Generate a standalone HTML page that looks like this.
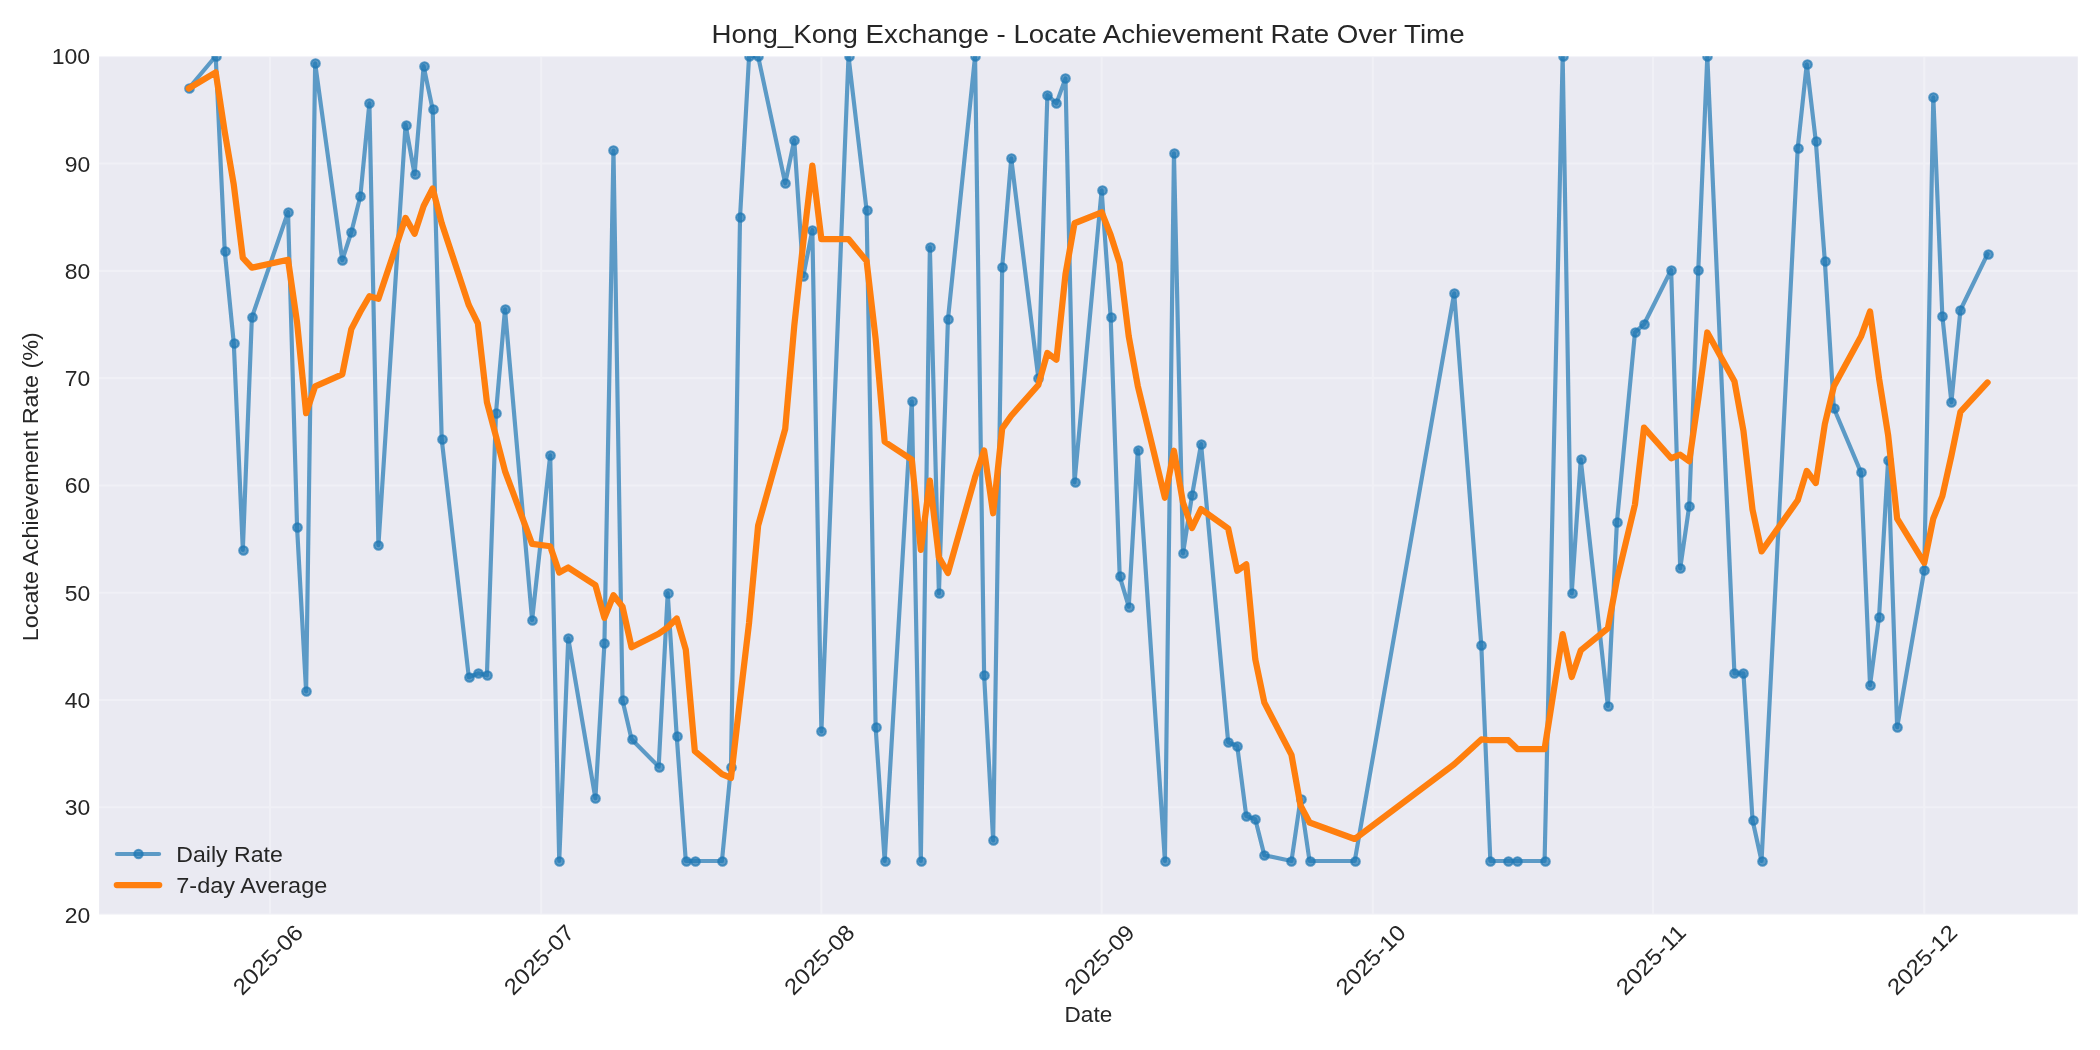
<!DOCTYPE html><html><head><meta charset="utf-8"><style>html,body{margin:0;padding:0;background:#fff;}svg{display:block;will-change:transform;}</style></head><body>
<svg width="2100" height="1050" viewBox="0 0 2100 1050">
<rect x="0" y="0" width="2100" height="1050" fill="#ffffff"/>
<rect x="99.1" y="56.3" width="1978.7" height="858.3" fill="#EAEAF2"/>
<path d="M99.1,914.60H2077.8M99.1,807.31H2077.8M99.1,700.02H2077.8M99.1,592.73H2077.8M99.1,485.44H2077.8M99.1,378.15H2077.8M99.1,270.86H2077.8M99.1,163.57H2077.8M99.1,56.28H2077.8M269.95,56.3V914.6M541.15,56.3V914.6M821.39,56.3V914.6M1101.63,56.3V914.6M1372.83,56.3V914.6M1653.07,56.3V914.6M1924.27,56.3V914.6" stroke="#ffffff" stroke-opacity="0.3" stroke-width="2.08" fill="none"/>
<clipPath id="c"><rect x="99.1" y="56.3" width="1978.7" height="858.3"/></clipPath>
<g clip-path="url(#c)">
<polyline points="188.59,88.47 215.71,56.28 224.75,251.12 233.79,343.28 242.83,549.81 251.87,317.32 288.03,212.07 297.07,527.28 306.11,691.33 315.15,63.36 342.27,260.13 351.31,232.24 360.35,196.19 369.39,103.27 378.43,545.20 405.55,124.52 414.59,174.30 423.63,66.15 432.67,109.50 441.71,439.31 468.83,677.27 477.87,673.30 486.91,675.34 495.95,413.34 504.99,309.27 532.11,619.98 550.19,455.40 559.23,860.96 568.27,638.33 595.39,798.30 604.43,643.26 613.47,150.48 622.51,700.34 631.55,739.29 658.67,766.65 667.71,593.05 676.75,736.50 685.79,860.96 694.83,860.96 721.95,860.96 730.99,766.65 740.03,217.22 749.07,56.28 758.11,56.28 785.23,183.31 794.27,139.97 803.31,276.01 812.35,229.98 821.39,731.35 848.51,56.28 866.59,210.35 875.63,727.27 884.67,860.96 911.79,401.32 920.83,860.96 929.87,247.26 938.91,593.37 947.95,319.36 975.07,56.28 984.11,675.34 993.15,840.36 1002.19,267.10 1011.23,158.31 1038.35,378.15 1047.39,95.01 1056.43,103.38 1065.47,78.38 1074.51,482.33 1101.63,190.39 1110.67,317.32 1119.71,576.31 1128.75,606.68 1137.79,450.03 1164.91,860.96 1173.95,153.38 1182.99,553.35 1192.03,495.31 1201.07,444.03 1228.19,742.29 1237.23,746.05 1246.27,816.00 1255.31,819.33 1264.35,855.27 1291.47,860.96 1300.51,799.26 1309.55,860.96 1354.75,860.96 1454.19,293.28 1481.31,645.30 1490.35,860.96 1508.43,860.96 1517.47,860.96 1544.59,860.96 1562.67,56.28 1571.71,593.37 1580.75,459.37 1607.87,705.92 1616.91,522.35 1634.99,332.34 1644.03,324.29 1671.15,270.00 1680.19,568.38 1689.23,506.04 1698.27,270.00 1707.31,56.28 1734.43,673.30 1743.47,673.30 1752.51,819.97 1761.55,860.96 1797.71,148.33 1806.75,64.33 1815.79,141.04 1824.83,260.99 1833.87,408.30 1860.99,472.35 1870.03,685.32 1879.07,616.66 1888.11,460.01 1897.15,727.27 1924.27,570.31 1933.31,97.37 1942.35,316.03 1951.39,402.29 1960.43,310.02 1987.55,254.02" fill="none" stroke="#1f77b4" stroke-opacity="0.7" stroke-width="4.17" stroke-linejoin="round" stroke-linecap="round"/>
<circle cx="189.50" cy="88.50" r="4.3" fill="#1f77b4" fill-opacity="0.7" stroke="#1f77b4" stroke-opacity="0.7" stroke-width="2.08"/><circle cx="216.50" cy="56.50" r="4.3" fill="#1f77b4" fill-opacity="0.7" stroke="#1f77b4" stroke-opacity="0.7" stroke-width="2.08"/><circle cx="225.50" cy="251.50" r="4.3" fill="#1f77b4" fill-opacity="0.7" stroke="#1f77b4" stroke-opacity="0.7" stroke-width="2.08"/><circle cx="234.50" cy="343.50" r="4.3" fill="#1f77b4" fill-opacity="0.7" stroke="#1f77b4" stroke-opacity="0.7" stroke-width="2.08"/><circle cx="243.50" cy="550.50" r="4.3" fill="#1f77b4" fill-opacity="0.7" stroke="#1f77b4" stroke-opacity="0.7" stroke-width="2.08"/><circle cx="252.50" cy="317.50" r="4.3" fill="#1f77b4" fill-opacity="0.7" stroke="#1f77b4" stroke-opacity="0.7" stroke-width="2.08"/><circle cx="288.50" cy="212.50" r="4.3" fill="#1f77b4" fill-opacity="0.7" stroke="#1f77b4" stroke-opacity="0.7" stroke-width="2.08"/><circle cx="297.50" cy="527.50" r="4.3" fill="#1f77b4" fill-opacity="0.7" stroke="#1f77b4" stroke-opacity="0.7" stroke-width="2.08"/><circle cx="306.50" cy="691.50" r="4.3" fill="#1f77b4" fill-opacity="0.7" stroke="#1f77b4" stroke-opacity="0.7" stroke-width="2.08"/><circle cx="315.50" cy="63.50" r="4.3" fill="#1f77b4" fill-opacity="0.7" stroke="#1f77b4" stroke-opacity="0.7" stroke-width="2.08"/><circle cx="342.50" cy="260.50" r="4.3" fill="#1f77b4" fill-opacity="0.7" stroke="#1f77b4" stroke-opacity="0.7" stroke-width="2.08"/><circle cx="351.50" cy="232.50" r="4.3" fill="#1f77b4" fill-opacity="0.7" stroke="#1f77b4" stroke-opacity="0.7" stroke-width="2.08"/><circle cx="360.50" cy="196.50" r="4.3" fill="#1f77b4" fill-opacity="0.7" stroke="#1f77b4" stroke-opacity="0.7" stroke-width="2.08"/><circle cx="369.50" cy="103.50" r="4.3" fill="#1f77b4" fill-opacity="0.7" stroke="#1f77b4" stroke-opacity="0.7" stroke-width="2.08"/><circle cx="378.50" cy="545.50" r="4.3" fill="#1f77b4" fill-opacity="0.7" stroke="#1f77b4" stroke-opacity="0.7" stroke-width="2.08"/><circle cx="406.50" cy="125.50" r="4.3" fill="#1f77b4" fill-opacity="0.7" stroke="#1f77b4" stroke-opacity="0.7" stroke-width="2.08"/><circle cx="415.50" cy="174.50" r="4.3" fill="#1f77b4" fill-opacity="0.7" stroke="#1f77b4" stroke-opacity="0.7" stroke-width="2.08"/><circle cx="424.50" cy="66.50" r="4.3" fill="#1f77b4" fill-opacity="0.7" stroke="#1f77b4" stroke-opacity="0.7" stroke-width="2.08"/><circle cx="433.50" cy="109.50" r="4.3" fill="#1f77b4" fill-opacity="0.7" stroke="#1f77b4" stroke-opacity="0.7" stroke-width="2.08"/><circle cx="442.50" cy="439.50" r="4.3" fill="#1f77b4" fill-opacity="0.7" stroke="#1f77b4" stroke-opacity="0.7" stroke-width="2.08"/><circle cx="469.50" cy="677.50" r="4.3" fill="#1f77b4" fill-opacity="0.7" stroke="#1f77b4" stroke-opacity="0.7" stroke-width="2.08"/><circle cx="478.50" cy="673.50" r="4.3" fill="#1f77b4" fill-opacity="0.7" stroke="#1f77b4" stroke-opacity="0.7" stroke-width="2.08"/><circle cx="487.50" cy="675.50" r="4.3" fill="#1f77b4" fill-opacity="0.7" stroke="#1f77b4" stroke-opacity="0.7" stroke-width="2.08"/><circle cx="496.50" cy="413.50" r="4.3" fill="#1f77b4" fill-opacity="0.7" stroke="#1f77b4" stroke-opacity="0.7" stroke-width="2.08"/><circle cx="505.50" cy="309.50" r="4.3" fill="#1f77b4" fill-opacity="0.7" stroke="#1f77b4" stroke-opacity="0.7" stroke-width="2.08"/><circle cx="532.50" cy="620.50" r="4.3" fill="#1f77b4" fill-opacity="0.7" stroke="#1f77b4" stroke-opacity="0.7" stroke-width="2.08"/><circle cx="550.50" cy="455.50" r="4.3" fill="#1f77b4" fill-opacity="0.7" stroke="#1f77b4" stroke-opacity="0.7" stroke-width="2.08"/><circle cx="559.50" cy="861.50" r="4.3" fill="#1f77b4" fill-opacity="0.7" stroke="#1f77b4" stroke-opacity="0.7" stroke-width="2.08"/><circle cx="568.50" cy="638.50" r="4.3" fill="#1f77b4" fill-opacity="0.7" stroke="#1f77b4" stroke-opacity="0.7" stroke-width="2.08"/><circle cx="595.50" cy="798.50" r="4.3" fill="#1f77b4" fill-opacity="0.7" stroke="#1f77b4" stroke-opacity="0.7" stroke-width="2.08"/><circle cx="604.50" cy="643.50" r="4.3" fill="#1f77b4" fill-opacity="0.7" stroke="#1f77b4" stroke-opacity="0.7" stroke-width="2.08"/><circle cx="613.50" cy="150.50" r="4.3" fill="#1f77b4" fill-opacity="0.7" stroke="#1f77b4" stroke-opacity="0.7" stroke-width="2.08"/><circle cx="623.50" cy="700.50" r="4.3" fill="#1f77b4" fill-opacity="0.7" stroke="#1f77b4" stroke-opacity="0.7" stroke-width="2.08"/><circle cx="632.50" cy="739.50" r="4.3" fill="#1f77b4" fill-opacity="0.7" stroke="#1f77b4" stroke-opacity="0.7" stroke-width="2.08"/><circle cx="659.50" cy="767.50" r="4.3" fill="#1f77b4" fill-opacity="0.7" stroke="#1f77b4" stroke-opacity="0.7" stroke-width="2.08"/><circle cx="668.50" cy="593.50" r="4.3" fill="#1f77b4" fill-opacity="0.7" stroke="#1f77b4" stroke-opacity="0.7" stroke-width="2.08"/><circle cx="677.50" cy="736.50" r="4.3" fill="#1f77b4" fill-opacity="0.7" stroke="#1f77b4" stroke-opacity="0.7" stroke-width="2.08"/><circle cx="686.50" cy="861.50" r="4.3" fill="#1f77b4" fill-opacity="0.7" stroke="#1f77b4" stroke-opacity="0.7" stroke-width="2.08"/><circle cx="695.50" cy="861.50" r="4.3" fill="#1f77b4" fill-opacity="0.7" stroke="#1f77b4" stroke-opacity="0.7" stroke-width="2.08"/><circle cx="722.50" cy="861.50" r="4.3" fill="#1f77b4" fill-opacity="0.7" stroke="#1f77b4" stroke-opacity="0.7" stroke-width="2.08"/><circle cx="731.50" cy="767.50" r="4.3" fill="#1f77b4" fill-opacity="0.7" stroke="#1f77b4" stroke-opacity="0.7" stroke-width="2.08"/><circle cx="740.50" cy="217.50" r="4.3" fill="#1f77b4" fill-opacity="0.7" stroke="#1f77b4" stroke-opacity="0.7" stroke-width="2.08"/><circle cx="749.50" cy="56.50" r="4.3" fill="#1f77b4" fill-opacity="0.7" stroke="#1f77b4" stroke-opacity="0.7" stroke-width="2.08"/><circle cx="758.50" cy="56.50" r="4.3" fill="#1f77b4" fill-opacity="0.7" stroke="#1f77b4" stroke-opacity="0.7" stroke-width="2.08"/><circle cx="785.50" cy="183.50" r="4.3" fill="#1f77b4" fill-opacity="0.7" stroke="#1f77b4" stroke-opacity="0.7" stroke-width="2.08"/><circle cx="794.50" cy="140.50" r="4.3" fill="#1f77b4" fill-opacity="0.7" stroke="#1f77b4" stroke-opacity="0.7" stroke-width="2.08"/><circle cx="803.50" cy="276.50" r="4.3" fill="#1f77b4" fill-opacity="0.7" stroke="#1f77b4" stroke-opacity="0.7" stroke-width="2.08"/><circle cx="812.50" cy="230.50" r="4.3" fill="#1f77b4" fill-opacity="0.7" stroke="#1f77b4" stroke-opacity="0.7" stroke-width="2.08"/><circle cx="821.50" cy="731.50" r="4.3" fill="#1f77b4" fill-opacity="0.7" stroke="#1f77b4" stroke-opacity="0.7" stroke-width="2.08"/><circle cx="849.50" cy="56.50" r="4.3" fill="#1f77b4" fill-opacity="0.7" stroke="#1f77b4" stroke-opacity="0.7" stroke-width="2.08"/><circle cx="867.50" cy="210.50" r="4.3" fill="#1f77b4" fill-opacity="0.7" stroke="#1f77b4" stroke-opacity="0.7" stroke-width="2.08"/><circle cx="876.50" cy="727.50" r="4.3" fill="#1f77b4" fill-opacity="0.7" stroke="#1f77b4" stroke-opacity="0.7" stroke-width="2.08"/><circle cx="885.50" cy="861.50" r="4.3" fill="#1f77b4" fill-opacity="0.7" stroke="#1f77b4" stroke-opacity="0.7" stroke-width="2.08"/><circle cx="912.50" cy="401.50" r="4.3" fill="#1f77b4" fill-opacity="0.7" stroke="#1f77b4" stroke-opacity="0.7" stroke-width="2.08"/><circle cx="921.50" cy="861.50" r="4.3" fill="#1f77b4" fill-opacity="0.7" stroke="#1f77b4" stroke-opacity="0.7" stroke-width="2.08"/><circle cx="930.50" cy="247.50" r="4.3" fill="#1f77b4" fill-opacity="0.7" stroke="#1f77b4" stroke-opacity="0.7" stroke-width="2.08"/><circle cx="939.50" cy="593.50" r="4.3" fill="#1f77b4" fill-opacity="0.7" stroke="#1f77b4" stroke-opacity="0.7" stroke-width="2.08"/><circle cx="948.50" cy="319.50" r="4.3" fill="#1f77b4" fill-opacity="0.7" stroke="#1f77b4" stroke-opacity="0.7" stroke-width="2.08"/><circle cx="975.50" cy="56.50" r="4.3" fill="#1f77b4" fill-opacity="0.7" stroke="#1f77b4" stroke-opacity="0.7" stroke-width="2.08"/><circle cx="984.50" cy="675.50" r="4.3" fill="#1f77b4" fill-opacity="0.7" stroke="#1f77b4" stroke-opacity="0.7" stroke-width="2.08"/><circle cx="993.50" cy="840.50" r="4.3" fill="#1f77b4" fill-opacity="0.7" stroke="#1f77b4" stroke-opacity="0.7" stroke-width="2.08"/><circle cx="1002.50" cy="267.50" r="4.3" fill="#1f77b4" fill-opacity="0.7" stroke="#1f77b4" stroke-opacity="0.7" stroke-width="2.08"/><circle cx="1011.50" cy="158.50" r="4.3" fill="#1f77b4" fill-opacity="0.7" stroke="#1f77b4" stroke-opacity="0.7" stroke-width="2.08"/><circle cx="1038.50" cy="378.50" r="4.3" fill="#1f77b4" fill-opacity="0.7" stroke="#1f77b4" stroke-opacity="0.7" stroke-width="2.08"/><circle cx="1047.50" cy="95.50" r="4.3" fill="#1f77b4" fill-opacity="0.7" stroke="#1f77b4" stroke-opacity="0.7" stroke-width="2.08"/><circle cx="1056.50" cy="103.50" r="4.3" fill="#1f77b4" fill-opacity="0.7" stroke="#1f77b4" stroke-opacity="0.7" stroke-width="2.08"/><circle cx="1065.50" cy="78.50" r="4.3" fill="#1f77b4" fill-opacity="0.7" stroke="#1f77b4" stroke-opacity="0.7" stroke-width="2.08"/><circle cx="1075.50" cy="482.50" r="4.3" fill="#1f77b4" fill-opacity="0.7" stroke="#1f77b4" stroke-opacity="0.7" stroke-width="2.08"/><circle cx="1102.50" cy="190.50" r="4.3" fill="#1f77b4" fill-opacity="0.7" stroke="#1f77b4" stroke-opacity="0.7" stroke-width="2.08"/><circle cx="1111.50" cy="317.50" r="4.3" fill="#1f77b4" fill-opacity="0.7" stroke="#1f77b4" stroke-opacity="0.7" stroke-width="2.08"/><circle cx="1120.50" cy="576.50" r="4.3" fill="#1f77b4" fill-opacity="0.7" stroke="#1f77b4" stroke-opacity="0.7" stroke-width="2.08"/><circle cx="1129.50" cy="607.50" r="4.3" fill="#1f77b4" fill-opacity="0.7" stroke="#1f77b4" stroke-opacity="0.7" stroke-width="2.08"/><circle cx="1138.50" cy="450.50" r="4.3" fill="#1f77b4" fill-opacity="0.7" stroke="#1f77b4" stroke-opacity="0.7" stroke-width="2.08"/><circle cx="1165.50" cy="861.50" r="4.3" fill="#1f77b4" fill-opacity="0.7" stroke="#1f77b4" stroke-opacity="0.7" stroke-width="2.08"/><circle cx="1174.50" cy="153.50" r="4.3" fill="#1f77b4" fill-opacity="0.7" stroke="#1f77b4" stroke-opacity="0.7" stroke-width="2.08"/><circle cx="1183.50" cy="553.50" r="4.3" fill="#1f77b4" fill-opacity="0.7" stroke="#1f77b4" stroke-opacity="0.7" stroke-width="2.08"/><circle cx="1192.50" cy="495.50" r="4.3" fill="#1f77b4" fill-opacity="0.7" stroke="#1f77b4" stroke-opacity="0.7" stroke-width="2.08"/><circle cx="1201.50" cy="444.50" r="4.3" fill="#1f77b4" fill-opacity="0.7" stroke="#1f77b4" stroke-opacity="0.7" stroke-width="2.08"/><circle cx="1228.50" cy="742.50" r="4.3" fill="#1f77b4" fill-opacity="0.7" stroke="#1f77b4" stroke-opacity="0.7" stroke-width="2.08"/><circle cx="1237.50" cy="746.50" r="4.3" fill="#1f77b4" fill-opacity="0.7" stroke="#1f77b4" stroke-opacity="0.7" stroke-width="2.08"/><circle cx="1246.50" cy="816.50" r="4.3" fill="#1f77b4" fill-opacity="0.7" stroke="#1f77b4" stroke-opacity="0.7" stroke-width="2.08"/><circle cx="1255.50" cy="819.50" r="4.3" fill="#1f77b4" fill-opacity="0.7" stroke="#1f77b4" stroke-opacity="0.7" stroke-width="2.08"/><circle cx="1264.50" cy="855.50" r="4.3" fill="#1f77b4" fill-opacity="0.7" stroke="#1f77b4" stroke-opacity="0.7" stroke-width="2.08"/><circle cx="1291.50" cy="861.50" r="4.3" fill="#1f77b4" fill-opacity="0.7" stroke="#1f77b4" stroke-opacity="0.7" stroke-width="2.08"/><circle cx="1301.50" cy="799.50" r="4.3" fill="#1f77b4" fill-opacity="0.7" stroke="#1f77b4" stroke-opacity="0.7" stroke-width="2.08"/><circle cx="1310.50" cy="861.50" r="4.3" fill="#1f77b4" fill-opacity="0.7" stroke="#1f77b4" stroke-opacity="0.7" stroke-width="2.08"/><circle cx="1355.50" cy="861.50" r="4.3" fill="#1f77b4" fill-opacity="0.7" stroke="#1f77b4" stroke-opacity="0.7" stroke-width="2.08"/><circle cx="1454.50" cy="293.50" r="4.3" fill="#1f77b4" fill-opacity="0.7" stroke="#1f77b4" stroke-opacity="0.7" stroke-width="2.08"/><circle cx="1481.50" cy="645.50" r="4.3" fill="#1f77b4" fill-opacity="0.7" stroke="#1f77b4" stroke-opacity="0.7" stroke-width="2.08"/><circle cx="1490.50" cy="861.50" r="4.3" fill="#1f77b4" fill-opacity="0.7" stroke="#1f77b4" stroke-opacity="0.7" stroke-width="2.08"/><circle cx="1508.50" cy="861.50" r="4.3" fill="#1f77b4" fill-opacity="0.7" stroke="#1f77b4" stroke-opacity="0.7" stroke-width="2.08"/><circle cx="1517.50" cy="861.50" r="4.3" fill="#1f77b4" fill-opacity="0.7" stroke="#1f77b4" stroke-opacity="0.7" stroke-width="2.08"/><circle cx="1545.50" cy="861.50" r="4.3" fill="#1f77b4" fill-opacity="0.7" stroke="#1f77b4" stroke-opacity="0.7" stroke-width="2.08"/><circle cx="1563.50" cy="56.50" r="4.3" fill="#1f77b4" fill-opacity="0.7" stroke="#1f77b4" stroke-opacity="0.7" stroke-width="2.08"/><circle cx="1572.50" cy="593.50" r="4.3" fill="#1f77b4" fill-opacity="0.7" stroke="#1f77b4" stroke-opacity="0.7" stroke-width="2.08"/><circle cx="1581.50" cy="459.50" r="4.3" fill="#1f77b4" fill-opacity="0.7" stroke="#1f77b4" stroke-opacity="0.7" stroke-width="2.08"/><circle cx="1608.50" cy="706.50" r="4.3" fill="#1f77b4" fill-opacity="0.7" stroke="#1f77b4" stroke-opacity="0.7" stroke-width="2.08"/><circle cx="1617.50" cy="522.50" r="4.3" fill="#1f77b4" fill-opacity="0.7" stroke="#1f77b4" stroke-opacity="0.7" stroke-width="2.08"/><circle cx="1635.50" cy="332.50" r="4.3" fill="#1f77b4" fill-opacity="0.7" stroke="#1f77b4" stroke-opacity="0.7" stroke-width="2.08"/><circle cx="1644.50" cy="324.50" r="4.3" fill="#1f77b4" fill-opacity="0.7" stroke="#1f77b4" stroke-opacity="0.7" stroke-width="2.08"/><circle cx="1671.50" cy="270.50" r="4.3" fill="#1f77b4" fill-opacity="0.7" stroke="#1f77b4" stroke-opacity="0.7" stroke-width="2.08"/><circle cx="1680.50" cy="568.50" r="4.3" fill="#1f77b4" fill-opacity="0.7" stroke="#1f77b4" stroke-opacity="0.7" stroke-width="2.08"/><circle cx="1689.50" cy="506.50" r="4.3" fill="#1f77b4" fill-opacity="0.7" stroke="#1f77b4" stroke-opacity="0.7" stroke-width="2.08"/><circle cx="1698.50" cy="270.50" r="4.3" fill="#1f77b4" fill-opacity="0.7" stroke="#1f77b4" stroke-opacity="0.7" stroke-width="2.08"/><circle cx="1707.50" cy="56.50" r="4.3" fill="#1f77b4" fill-opacity="0.7" stroke="#1f77b4" stroke-opacity="0.7" stroke-width="2.08"/><circle cx="1734.50" cy="673.50" r="4.3" fill="#1f77b4" fill-opacity="0.7" stroke="#1f77b4" stroke-opacity="0.7" stroke-width="2.08"/><circle cx="1743.50" cy="673.50" r="4.3" fill="#1f77b4" fill-opacity="0.7" stroke="#1f77b4" stroke-opacity="0.7" stroke-width="2.08"/><circle cx="1753.50" cy="820.50" r="4.3" fill="#1f77b4" fill-opacity="0.7" stroke="#1f77b4" stroke-opacity="0.7" stroke-width="2.08"/><circle cx="1762.50" cy="861.50" r="4.3" fill="#1f77b4" fill-opacity="0.7" stroke="#1f77b4" stroke-opacity="0.7" stroke-width="2.08"/><circle cx="1798.50" cy="148.50" r="4.3" fill="#1f77b4" fill-opacity="0.7" stroke="#1f77b4" stroke-opacity="0.7" stroke-width="2.08"/><circle cx="1807.50" cy="64.50" r="4.3" fill="#1f77b4" fill-opacity="0.7" stroke="#1f77b4" stroke-opacity="0.7" stroke-width="2.08"/><circle cx="1816.50" cy="141.50" r="4.3" fill="#1f77b4" fill-opacity="0.7" stroke="#1f77b4" stroke-opacity="0.7" stroke-width="2.08"/><circle cx="1825.50" cy="261.50" r="4.3" fill="#1f77b4" fill-opacity="0.7" stroke="#1f77b4" stroke-opacity="0.7" stroke-width="2.08"/><circle cx="1834.50" cy="408.50" r="4.3" fill="#1f77b4" fill-opacity="0.7" stroke="#1f77b4" stroke-opacity="0.7" stroke-width="2.08"/><circle cx="1861.50" cy="472.50" r="4.3" fill="#1f77b4" fill-opacity="0.7" stroke="#1f77b4" stroke-opacity="0.7" stroke-width="2.08"/><circle cx="1870.50" cy="685.50" r="4.3" fill="#1f77b4" fill-opacity="0.7" stroke="#1f77b4" stroke-opacity="0.7" stroke-width="2.08"/><circle cx="1879.50" cy="617.50" r="4.3" fill="#1f77b4" fill-opacity="0.7" stroke="#1f77b4" stroke-opacity="0.7" stroke-width="2.08"/><circle cx="1888.50" cy="460.50" r="4.3" fill="#1f77b4" fill-opacity="0.7" stroke="#1f77b4" stroke-opacity="0.7" stroke-width="2.08"/><circle cx="1897.50" cy="727.50" r="4.3" fill="#1f77b4" fill-opacity="0.7" stroke="#1f77b4" stroke-opacity="0.7" stroke-width="2.08"/><circle cx="1924.50" cy="570.50" r="4.3" fill="#1f77b4" fill-opacity="0.7" stroke="#1f77b4" stroke-opacity="0.7" stroke-width="2.08"/><circle cx="1933.50" cy="97.50" r="4.3" fill="#1f77b4" fill-opacity="0.7" stroke="#1f77b4" stroke-opacity="0.7" stroke-width="2.08"/><circle cx="1942.50" cy="316.50" r="4.3" fill="#1f77b4" fill-opacity="0.7" stroke="#1f77b4" stroke-opacity="0.7" stroke-width="2.08"/><circle cx="1951.50" cy="402.50" r="4.3" fill="#1f77b4" fill-opacity="0.7" stroke="#1f77b4" stroke-opacity="0.7" stroke-width="2.08"/><circle cx="1960.50" cy="310.50" r="4.3" fill="#1f77b4" fill-opacity="0.7" stroke="#1f77b4" stroke-opacity="0.7" stroke-width="2.08"/><circle cx="1988.50" cy="254.50" r="4.3" fill="#1f77b4" fill-opacity="0.7" stroke="#1f77b4" stroke-opacity="0.7" stroke-width="2.08"/>
<polyline points="188.59,88.47 215.71,72.37 224.75,131.96 233.79,184.79 242.83,257.79 251.87,267.71 288.03,259.76 297.07,322.45 306.11,413.17 315.15,386.35 342.27,374.47 351.31,329.10 360.35,311.80 369.39,296.26 378.43,298.82 405.55,217.84 414.59,233.69 423.63,205.98 432.67,188.45 441.71,223.18 468.83,305.18 477.87,323.48 486.91,402.17 495.95,436.32 504.99,471.05 532.11,543.97 550.19,546.27 559.23,572.51 568.27,567.52 595.39,585.08 604.43,617.93 613.47,595.24 622.51,606.72 631.55,647.28 658.67,633.81 667.71,627.34 676.75,618.51 685.79,649.61 694.83,751.11 721.95,774.05 730.99,777.96 740.03,699.47 749.07,622.79 758.11,525.61 785.23,428.81 794.27,325.81 803.31,242.24 812.35,165.58 821.39,239.03 848.51,239.03 866.59,261.04 875.63,338.74 884.67,441.74 911.79,459.64 920.83,549.78 929.87,480.63 938.91,557.35 947.95,572.93 975.07,477.07 984.11,450.56 993.15,513.27 1002.19,428.44 1011.23,415.73 1038.35,384.99 1047.39,352.94 1056.43,359.67 1065.47,274.39 1074.51,223.24 1101.63,212.28 1110.67,234.99 1119.71,263.30 1128.75,336.40 1137.79,385.92 1164.91,497.72 1173.95,450.72 1182.99,502.58 1192.03,528.00 1201.07,509.11 1228.19,528.48 1237.23,570.77 1246.27,564.34 1255.31,659.48 1264.35,702.61 1291.47,754.85 1300.51,805.59 1309.55,822.55 1354.75,838.96 1454.19,764.29 1481.31,739.43 1490.35,740.24 1508.43,740.24 1517.47,749.05 1544.59,749.05 1562.67,634.10 1571.71,676.97 1580.75,650.41 1607.87,628.26 1616.91,579.89 1634.99,504.37 1644.03,427.70 1671.15,458.23 1680.19,454.66 1689.23,461.33 1698.27,399.06 1707.31,332.48 1734.43,381.18 1743.47,431.04 1752.51,509.61 1761.55,551.41 1797.71,500.31 1806.75,470.93 1815.79,483.03 1824.83,424.13 1833.87,386.27 1860.99,336.61 1870.03,311.52 1879.07,378.43 1888.11,434.95 1897.15,518.70 1924.27,562.89 1933.31,518.47 1942.35,496.14 1951.39,455.71 1960.43,411.90 1987.55,382.47" fill="none" stroke="#ff7f0e" stroke-width="6.25" stroke-linejoin="round" stroke-linecap="round"/>
</g>
<text x="90.2" y="922.60" font-family='"Liberation Sans", sans-serif' font-size="22.3" fill="#262626" text-anchor="end" textLength="25.5" lengthAdjust="spacingAndGlyphs">20</text>
<text x="90.2" y="815.31" font-family='"Liberation Sans", sans-serif' font-size="22.3" fill="#262626" text-anchor="end" textLength="25.5" lengthAdjust="spacingAndGlyphs">30</text>
<text x="90.2" y="708.02" font-family='"Liberation Sans", sans-serif' font-size="22.3" fill="#262626" text-anchor="end" textLength="25.5" lengthAdjust="spacingAndGlyphs">40</text>
<text x="90.2" y="600.73" font-family='"Liberation Sans", sans-serif' font-size="22.3" fill="#262626" text-anchor="end" textLength="25.5" lengthAdjust="spacingAndGlyphs">50</text>
<text x="90.2" y="493.44" font-family='"Liberation Sans", sans-serif' font-size="22.3" fill="#262626" text-anchor="end" textLength="25.5" lengthAdjust="spacingAndGlyphs">60</text>
<text x="90.2" y="386.15" font-family='"Liberation Sans", sans-serif' font-size="22.3" fill="#262626" text-anchor="end" textLength="25.5" lengthAdjust="spacingAndGlyphs">70</text>
<text x="90.2" y="278.86" font-family='"Liberation Sans", sans-serif' font-size="22.3" fill="#262626" text-anchor="end" textLength="25.5" lengthAdjust="spacingAndGlyphs">80</text>
<text x="90.2" y="171.57" font-family='"Liberation Sans", sans-serif' font-size="22.3" fill="#262626" text-anchor="end" textLength="25.5" lengthAdjust="spacingAndGlyphs">90</text>
<text x="90.2" y="64.28" font-family='"Liberation Sans", sans-serif' font-size="22.3" fill="#262626" text-anchor="end" textLength="38.5" lengthAdjust="spacingAndGlyphs">100</text>
<text x="0" y="0" transform="translate(267.95,959.80) rotate(-45)" font-family='"Liberation Sans", sans-serif' font-size="22.3" fill="#262626" text-anchor="middle" dominant-baseline="central" textLength="88" lengthAdjust="spacingAndGlyphs">2025-06</text>
<text x="0" y="0" transform="translate(539.15,959.80) rotate(-45)" font-family='"Liberation Sans", sans-serif' font-size="22.3" fill="#262626" text-anchor="middle" dominant-baseline="central" textLength="88" lengthAdjust="spacingAndGlyphs">2025-07</text>
<text x="0" y="0" transform="translate(819.39,959.80) rotate(-45)" font-family='"Liberation Sans", sans-serif' font-size="22.3" fill="#262626" text-anchor="middle" dominant-baseline="central" textLength="88" lengthAdjust="spacingAndGlyphs">2025-08</text>
<text x="0" y="0" transform="translate(1099.63,959.80) rotate(-45)" font-family='"Liberation Sans", sans-serif' font-size="22.3" fill="#262626" text-anchor="middle" dominant-baseline="central" textLength="88" lengthAdjust="spacingAndGlyphs">2025-09</text>
<text x="0" y="0" transform="translate(1370.83,959.80) rotate(-45)" font-family='"Liberation Sans", sans-serif' font-size="22.3" fill="#262626" text-anchor="middle" dominant-baseline="central" textLength="88" lengthAdjust="spacingAndGlyphs">2025-10</text>
<text x="0" y="0" transform="translate(1651.07,959.80) rotate(-45)" font-family='"Liberation Sans", sans-serif' font-size="22.3" fill="#262626" text-anchor="middle" dominant-baseline="central" textLength="88" lengthAdjust="spacingAndGlyphs">2025-11</text>
<text x="0" y="0" transform="translate(1922.27,959.80) rotate(-45)" font-family='"Liberation Sans", sans-serif' font-size="22.3" fill="#262626" text-anchor="middle" dominant-baseline="central" textLength="88" lengthAdjust="spacingAndGlyphs">2025-12</text>
<text x="711.6" y="43.2" font-family='"Liberation Sans", sans-serif' font-size="25.3" fill="#262626" textLength="753" lengthAdjust="spacingAndGlyphs">Hong_Kong Exchange - Locate Achievement Rate Over Time</text>
<text x="1064.6" y="1021.9" font-family='"Liberation Sans", sans-serif' font-size="22.3" fill="#262626" textLength="47.6" lengthAdjust="spacingAndGlyphs">Date</text>
<text x="0" y="0" transform="translate(38.2,641.2) rotate(-90)" font-family='"Liberation Sans", sans-serif' font-size="22.3" fill="#262626" textLength="309" lengthAdjust="spacingAndGlyphs">Locate Achievement Rate (%)</text>
<line x1="116.9" y1="854.0" x2="159.1" y2="854.0" stroke="#1f77b4" stroke-opacity="0.7" stroke-width="4.17" stroke-linecap="round"/>
<circle cx="138.5" cy="854.0" r="4.17" fill="#1f77b4" fill-opacity="0.7" stroke="#1f77b4" stroke-opacity="0.7" stroke-width="2.08"/>
<line x1="116.8" y1="885.1" x2="159.2" y2="885.1" stroke="#ff7f0e" stroke-width="6.25" stroke-linecap="round"/>
<text x="176.3" y="862.2" font-family='"Liberation Sans", sans-serif' font-size="22.3" fill="#262626" textLength="106.6" lengthAdjust="spacingAndGlyphs">Daily Rate</text>
<text x="176.3" y="892.5" font-family='"Liberation Sans", sans-serif' font-size="22.3" fill="#262626" textLength="151.0" lengthAdjust="spacingAndGlyphs">7-day Average</text>
</svg></body></html>
